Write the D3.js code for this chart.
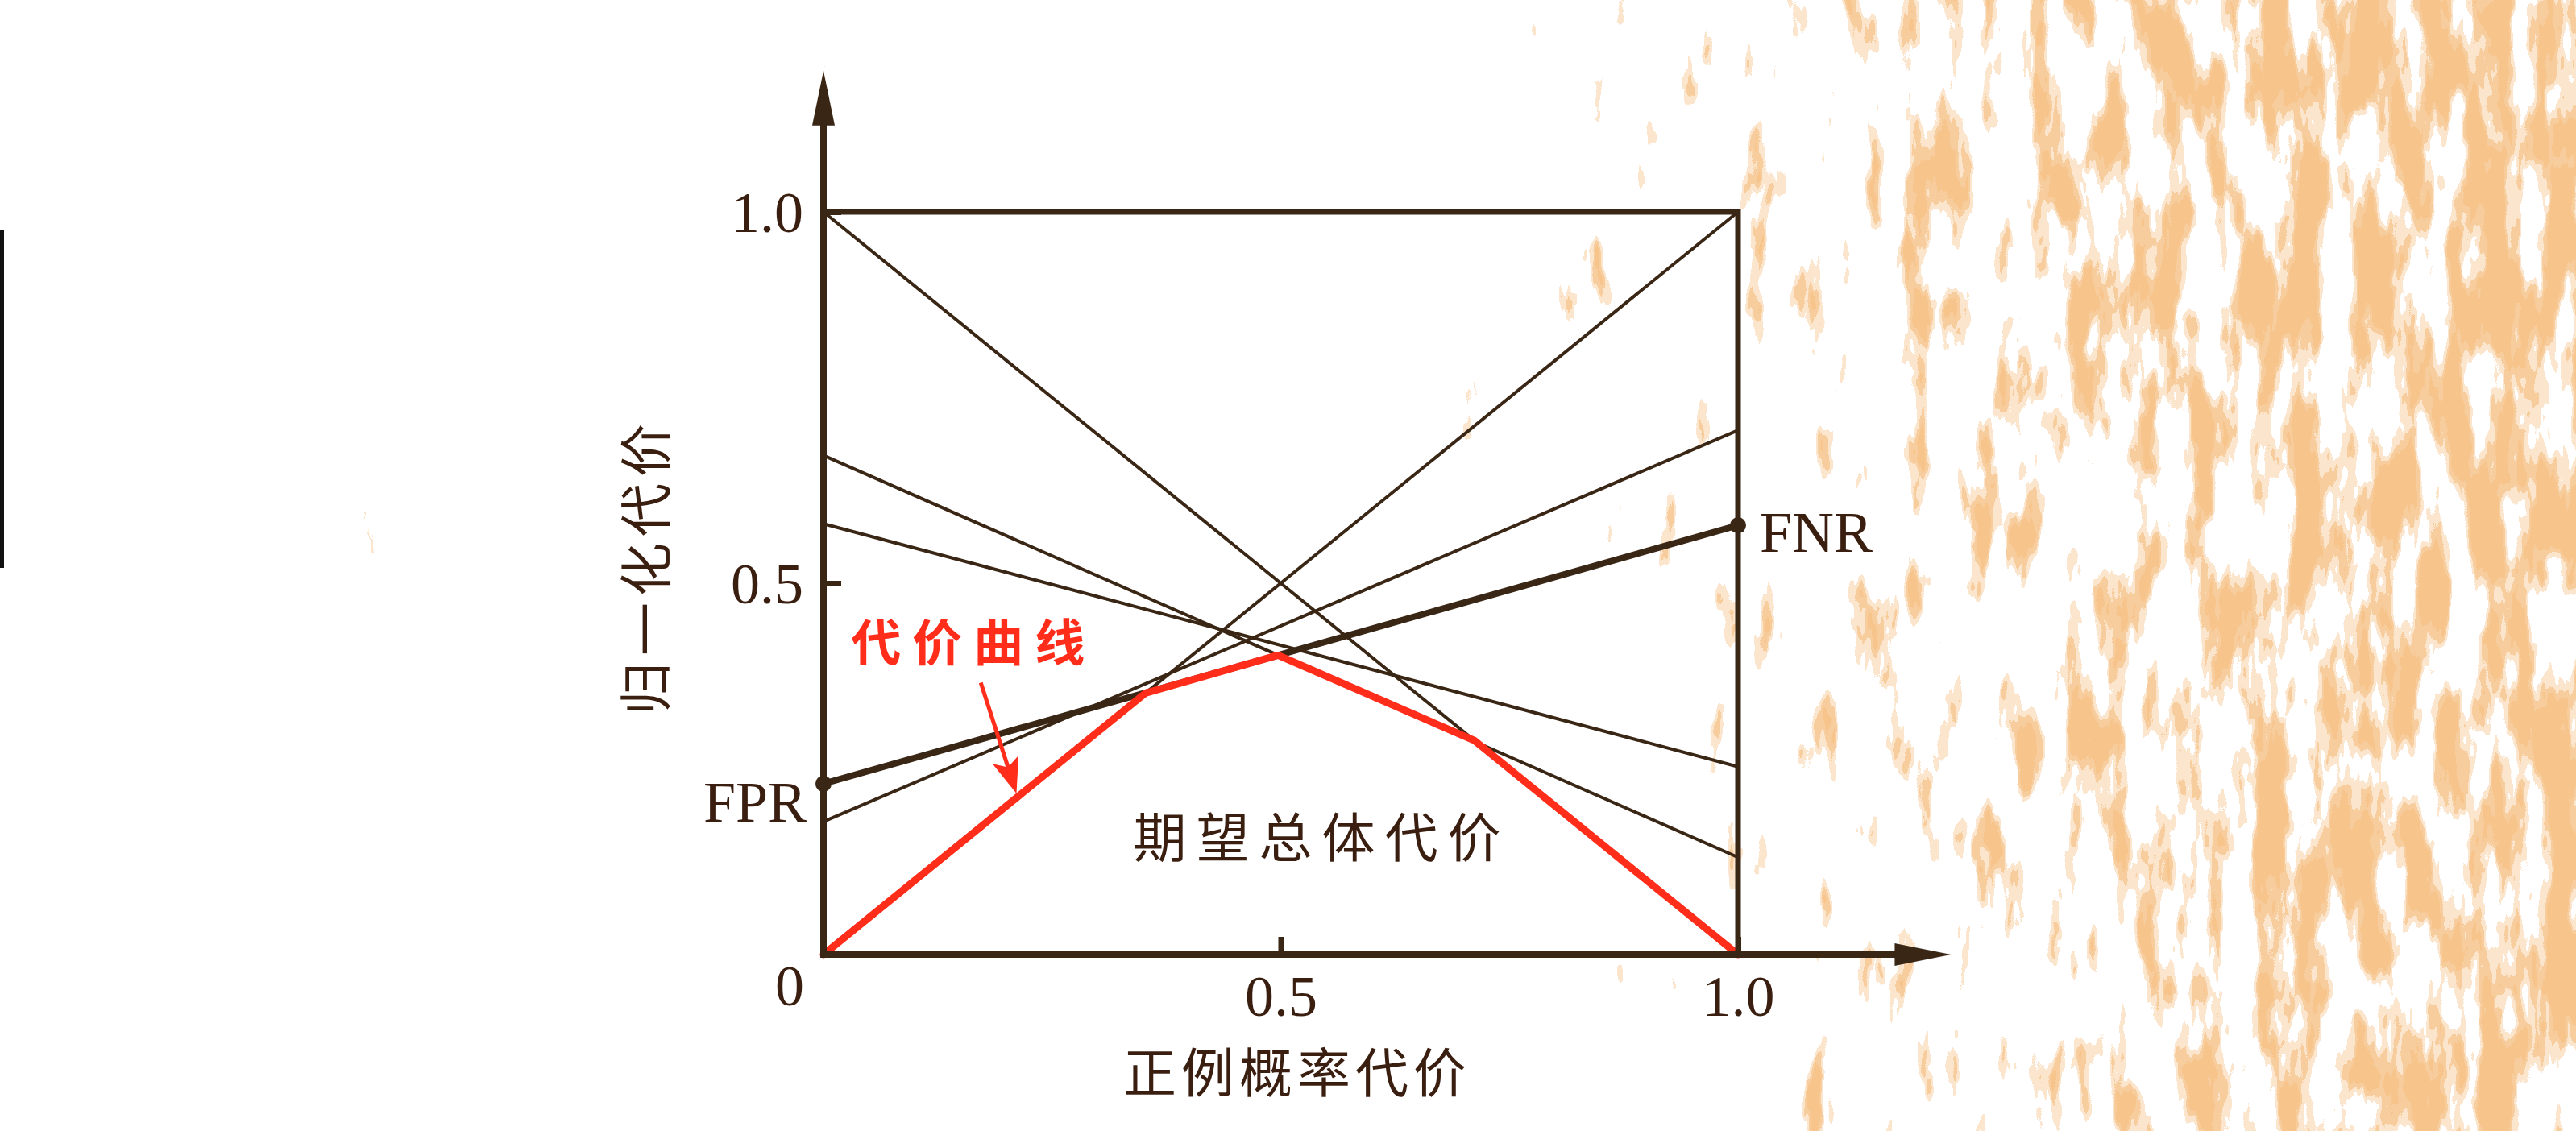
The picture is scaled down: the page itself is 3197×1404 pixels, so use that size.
<!DOCTYPE html>
<meta charset="utf-8">
<style>
body { margin: 0; background: #fff; }
.num { font-family: "Liberation Serif", "DejaVu Serif", serif; font-size: 72px; fill: #3a1f10; }
.cjk { font-family: "Noto Sans CJK SC", sans-serif; font-size: 66px; fill: #3a1f10; }
</style>
<body>
<svg id="chart" width="3197" height="1404"></svg>
<script src="https://d3js.org/d3.v7.min.js"></script>
<script>
// cost lines: normalized cost at p=0 (FPR) and at p=1 (FNR)
var lineFPR = [1.0, 0.0, 0.672, 0.580, 0.230, 0.179];
var lineFNR = [0.0, 1.0, 0.131, 0.253, 0.578, 0.706];
var highlighted = 4; // the thick FPR -> FNR line

// lower envelope = cost curve
var curveX = [0, 0.352, 0.497, 0.712, 1.0];
var curveY = [0, 0.352, 0.403, 0.288, 0];

var xTicks = [0.5, 1.0];
var yTicks = [0.5, 1.0];
var tickFormat = d3.format(".1f");

var xTitle = "正例概率代价";
var yTitle = "归一化代价";
var curveLabel = "代价曲线";
var areaLabel = "期望总体代价";

var svg = d3.select("#chart"),
    width = +svg.attr("width"),
    height = +svg.attr("height");

var ink = "#3a2615", red = "#ff2d1a";

var x = d3.scaleLinear().domain([0, 1]).range([1022, 2157]);
var y = d3.scaleLinear().domain([0, 1]).range([1185, 263]);

// paper texture on the right side of the scan
var defs = svg.append("defs");
var grad = defs.append("linearGradient").attr("id", "fade")
    .attr("gradientUnits", "userSpaceOnUse")
    .attr("x1", 1750).attr("y1", 760).attr("x2", 3197).attr("y2", 520);
grad.append("stop").attr("offset", "0").attr("stop-color", "#000");
grad.append("stop").attr("offset", "0.38").attr("stop-color", "#8c8c8c");
grad.append("stop").attr("offset", "0.7").attr("stop-color", "#e0e0e0");
grad.append("stop").attr("offset", "1").attr("stop-color", "#fff");

var f = defs.append("filter").attr("id", "paper")
    .attr("x", 0).attr("y", 0).attr("width", 1).attr("height", 1)
    .attr("color-interpolation-filters", "sRGB");
f.append("feTurbulence").attr("type", "fractalNoise")
    .attr("baseFrequency", "0.025 0.007").attr("numOctaves", 4).attr("seed", 11)
    .attr("result", "raw");
f.append("feColorMatrix").attr("in", "raw").attr("type", "matrix")
    .attr("values", "1 0 0 0 0  0 1 0 0 0  0 0 1 0 0  0 0 0 0 1")
    .attr("result", "noise");
f.append("feComposite").attr("in", "noise").attr("in2", "SourceGraphic")
    .attr("operator", "arithmetic")
    .attr("k1", 0).attr("k2", 2).attr("k3", 1.0).attr("k4", -1.32)
    .attr("result", "sum");
f.append("feColorMatrix").attr("in", "sum").attr("type", "matrix")
    .attr("values", "0 0 0 0 0.97  0 0 0 0 0.77  0 0 0 0 0.55  1 0 0 0 0");
var ct = f.append("feComponentTransfer");
ct.append("feFuncA").attr("type", "discrete").attr("tableValues", "0 0 0 0 0.45 0.85 1 1");

svg.append("rect").attr("width", width).attr("height", height)
    .attr("fill", "url(#fade)").attr("filter", "url(#paper)");

svg.append("rect").attr("x", 0).attr("y", 285).attr("width", 5).attr("height", 420).attr("fill", "#111");

// cost lines
var lines = svg.append("g");
lines.selectAll("line")
  .data(lineFPR.map(function(d, i) { return {a: d, b: lineFNR[i], i: i}; }))
  .enter().append("line")
    .attr("x1", x(0)).attr("y1", function(d) { return y(d.a); })
    .attr("x2", x(1)).attr("y2", function(d) { return y(d.b); })
    .attr("stroke", ink)
    .attr("stroke-width", function(d) { return d.i == highlighted ? 8 : 4; });

// cost curve
svg.append("path")
  .datum(curveX.map(function(d, i) { return [d, curveY[i]]; }))
  .attr("d", d3.line().x(function(d) { return x(d[0]); }).y(function(d) { return y(d[1]); }))
  .attr("fill", "none").attr("stroke", red).attr("stroke-width", 9)
  .attr("stroke-linejoin", "round").attr("stroke-linecap", "round");

// box (top and right)
svg.append("path")
  .attr("d", "M" + x(0) + "," + y(1) + "H" + x(1) + "V" + y(0))
  .attr("fill", "none").attr("stroke", ink).attr("stroke-width", 7);

// axes with arrows
var xEnd = 1.233, yEnd = 1.19;
svg.append("line").attr("x1", x(0) - 4).attr("y1", y(0)).attr("x2", x(xEnd) - 40).attr("y2", y(0))
    .attr("stroke", ink).attr("stroke-width", 8);
svg.append("line").attr("x1", x(0)).attr("y1", y(0) + 4).attr("x2", x(0)).attr("y2", y(yEnd) + 40)
    .attr("stroke", ink).attr("stroke-width", 8);
svg.append("path")
  .attr("d", "M" + x(xEnd) + "," + y(0) + "l-70,-14v28z").attr("fill", ink);
svg.append("path")
  .attr("d", "M" + x(0) + "," + y(yEnd) + "l-14,68h28z").attr("fill", ink);

// ticks and labels
svg.append("g")
    .attr("transform", "translate(0," + y(0) + ")")
    .call(d3.axisBottom(x).tickValues(xTicks).tickFormat(tickFormat)
          .tickSize(-22).tickSizeOuter(0).tickPadding(25))
    .call(function(g) { g.select(".domain").remove(); })
    .call(function(g) {
      g.selectAll("line").attr("stroke", ink).attr("stroke-width", 7);
      g.selectAll("text").attr("class", "num");
      g.attr("font-size", null).attr("font-family", null);
    });

svg.append("g")
    .attr("transform", "translate(" + x(0) + ",0)")
    .call(d3.axisLeft(y).tickValues(yTicks).tickFormat(tickFormat)
          .tickSize(-22).tickSizeOuter(0).tickPadding(25))
    .call(function(g) { g.select(".domain").remove(); })
    .call(function(g) {
      g.selectAll("line").attr("stroke", ink).attr("stroke-width", 7);
      g.selectAll("text").attr("class", "num").attr("dy", "0.34em");
      g.attr("font-size", null).attr("font-family", null);
    });

svg.append("text").attr("class", "num")
    .attr("x", x(0) - 42).attr("y", y(0) + 63)
    .attr("text-anchor", "middle").text("0");

// FPR / FNR end points
var hl = {a: lineFPR[highlighted], b: lineFNR[highlighted]};
svg.selectAll(".endpt")
  .data([[0, hl.a], [1, hl.b]])
  .enter().append("circle").attr("class", "endpt")
    .attr("cx", function(d) { return x(d[0]); })
    .attr("cy", function(d) { return y(d[1]); })
    .attr("r", 10).attr("fill", ink);

svg.append("text").attr("class", "num")
    .attr("x", x(0) - 21).attr("y", y(hl.a) + 47)
    .attr("text-anchor", "end").text("FPR");
svg.append("text").attr("class", "num")
    .attr("x", x(1) + 27).attr("y", y(hl.b) + 33)
    .text("FNR");

// titles
svg.append("text").attr("class", "cjk")
    .attr("x", 1610).attr("y", y(0) + 171)
    .attr("text-anchor", "middle").attr("letter-spacing", "6px")
    .text(xTitle);

svg.append("text").attr("class", "cjk")
    .attr("transform", "translate(826,703) rotate(-90)")
    .attr("text-anchor", "middle").attr("letter-spacing", "8px")
    .text(yTitle);

// annotations
svg.append("text").attr("class", "cjk")
    .attr("x", x(0.545)).attr("y", y(0.157) + 24)
    .attr("text-anchor", "middle").attr("letter-spacing", "12px")
    .text(areaLabel);

svg.append("text").attr("class", "cjk")
    .attr("x", x(0.164)).attr("y", y(0.420) + 23)
    .attr("text-anchor", "middle").attr("letter-spacing", "14px")
    .style("fill", red).style("font-size", "62px").style("font-weight", "bold")
    .text(curveLabel);

var arrowFrom = [0.172, 0.366], arrowTo = [0.211, 0.217];
var ax0 = x(arrowFrom[0]), ay0 = y(arrowFrom[1]), ax1 = x(arrowTo[0]), ay1 = y(arrowTo[1]);
var ang = Math.atan2(ay1 - ay0, ax1 - ax0);
svg.append("line")
    .attr("x1", ax0).attr("y1", ay0)
    .attr("x2", ax1 - 30 * Math.cos(ang)).attr("y2", ay1 - 30 * Math.sin(ang))
    .attr("stroke", red).attr("stroke-width", 5);
svg.append("path")
    .attr("transform", "translate(" + ax1 + "," + ay1 + ") rotate(" + (ang * 180 / Math.PI) + ")")
    .attr("d", "M0,0L-44,-17L-34,0L-44,17Z").attr("fill", red);
</script>
</body>
